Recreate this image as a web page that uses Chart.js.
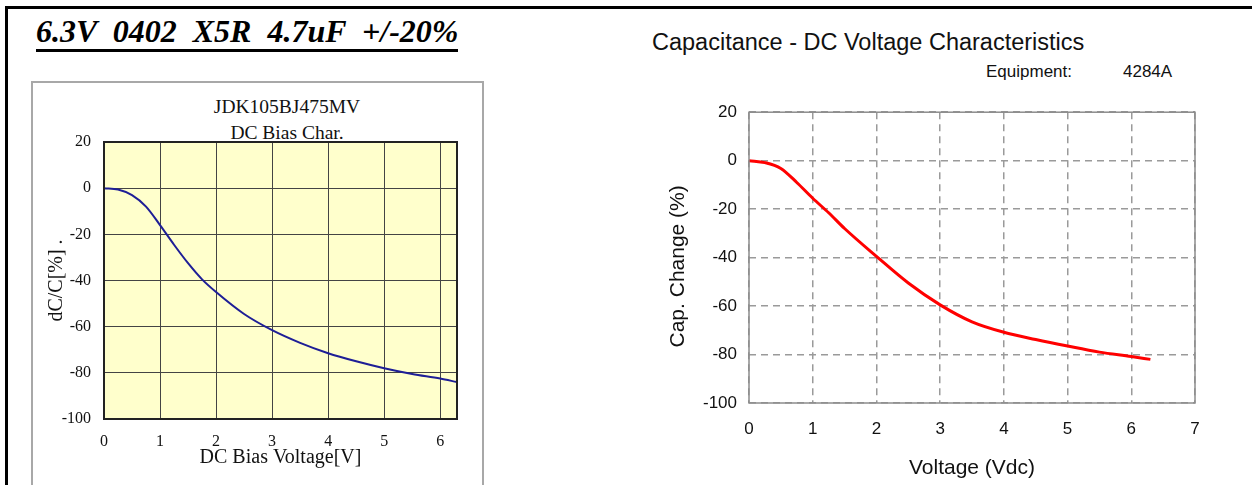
<!DOCTYPE html>
<html>
<head>
<meta charset="utf-8">
<script src="https://cdn.jsdelivr.net/npm/chart.js@4.4.1/dist/chart.umd.min.js"></script>
<style>
  body { margin: 0; background: #fff; }
  #page { position: relative; width: 1252px; height: 485px; overflow: hidden; background: #fff; }
  .abs { position: absolute; }
  #frameTop { left: 5px; top: 6px; width: 1247px; height: 3px; background: #000; }
  #frameLeft { left: 5px; top: 6px; width: 3px; height: 479px; background: #000; }
  #mainTitle {
    left: 36px; top: 15px;
    font: italic bold 32px "Liberation Serif", "Times New Roman", serif;
    line-height: 32px; white-space: pre;
    padding-bottom: 2px; border-bottom: 3px solid #000;
  }
  #leftBox { left: 31px; top: 81px; width: 449px; height: 420px; border: 2px solid #a8a8a8; }
  .subTitle {
    left: 187px; width: 200px; text-align: center;
    font: 19.5px "Liberation Serif", "Times New Roman", serif; line-height: 20px; color: #111;
  }
  #rightTitle {
    left: 652px; top: 30px;
    font: 23.5px "Liberation Sans", Arial, sans-serif; line-height: 24px; color: #111;
  }
  .equip { top: 63px; font: 17px "Liberation Sans", Arial, sans-serif; line-height: 17px; color: #111; }
  canvas { position: absolute; }
</style>
</head>
<body>
<div id="page">
  <div id="frameTop" class="abs"></div>
  <div id="frameLeft" class="abs"></div>
  <div id="mainTitle" class="abs">6.3V  0402  X5R  4.7uF  +/-20%</div>
  <div id="leftBox" class="abs"></div>
  <div class="abs subTitle" style="top:97px;">JDK105BJ475MV</div>
  <div class="abs subTitle" style="top:123px;">DC Bias Char.</div>
  <canvas id="biasChart" width="451" height="404" style="left:31px; top:81px;"></canvas>

  <div id="rightTitle" class="abs">Capacitance - DC Voltage Characteristics</div>
  <div class="abs equip" style="left:986px;">Equipment:</div>
  <div class="abs equip" style="left:1123px;">4284A</div>
  <canvas id="capChart" width="622" height="395" style="left:630px; top:90px;"></canvas>
</div>

<script>
// Courbe de gauche : JDK105BJ475MV, DC Bias Char.
const biasVolts = [0, 0.25, 0.5, 0.75, 1, 1.25, 1.5, 1.75, 2, 2.5, 3, 3.5, 4, 4.5, 5, 5.5, 6, 6.3];
const biasChange = [0, -0.6, -3, -8, -16, -24.5, -32.5, -39.5, -45, -54.5, -61.5, -67, -71.5, -75, -78, -80.5, -82.5, -84];

// Courbe de droite : Capacitance - DC Voltage Characteristics
const capVolts = [0, 0.25, 0.5, 0.75, 1, 1.25, 1.5, 2, 2.5, 3, 3.5, 4, 4.5, 5, 5.5, 6, 6.3];
const capChange = [0, -0.8, -3.2, -9, -15.5, -21.5, -28, -39.5, -50.5, -59.5, -66.5, -70.8, -73.8, -76.5, -79, -80.8, -82];

// axes
const yMin = -100, yMax = 20, yStep = 20;
const biasXMax = 6.3;
const capXMax = 7;

// fond + cadre de la zone de tracé
const plotFrame = {
  id: 'plotFrame',
  beforeDraw(chart, args, opts) {
    const { ctx, chartArea: a } = chart;
    if (opts.fill) {
      ctx.save();
      ctx.fillStyle = opts.fill;
      ctx.fillRect(a.left, a.top, a.width, a.height);
      ctx.restore();
    }
  },
  afterDraw(chart, args, opts) {
    const { ctx, chartArea: a } = chart;
    ctx.save();
    ctx.strokeStyle = opts.color;
    ctx.lineWidth = opts.width;
    ctx.strokeRect(a.left, a.top, a.width, a.height);
    ctx.restore();
  }
};

const toPoints = (xs, ys) => xs.map((x, i) => ({ x: x, y: ys[i] }));

const serif = '"Liberation Serif", "Times New Roman", serif';
const sans = '"Liberation Sans", Arial, sans-serif';

new Chart(document.getElementById('biasChart').getContext('2d'), {
  type: 'line',
  data: {
    datasets: [{
      data: toPoints(biasVolts, biasChange),
      borderColor: '#1e1e96',
      borderWidth: 2,
      pointRadius: 0,
      cubicInterpolationMode: 'monotone'
    }]
  },
  options: {
    responsive: false,
    animation: false,
    layout: { padding: { left: 0, right: 25, top: 61, bottom: 0 } },
    plugins: {
      legend: { display: false },
      tooltip: { enabled: false },
      plotFrame: { fill: '#ffffcc', color: '#222', width: 2 }
    },
    scales: {
      x: {
        type: 'linear',
        min: 0,
        max: biasXMax,
        afterFit: s => { s.height = 66; },
        grid: { color: '#444', lineWidth: 1, drawTicks: false },
        border: { display: false },
        ticks: { stepSize: 1, includeBounds: false, padding: 13, color: '#111', font: { family: serif, size: 16 } },
        title: { display: true, text: 'DC Bias Voltage[V]', color: '#111', font: { family: serif, size: 20 }, padding: { top: 0, bottom: 15 } }
      },
      y: {
        min: yMin,
        max: yMax,
        afterFit: s => { s.width = 73; },
        grid: { color: '#444', lineWidth: 1, drawTicks: false },
        border: { display: false },
        ticks: { stepSize: yStep, padding: 13, color: '#111', font: { family: serif, size: 16 } },
        title: { display: true, text: 'dC/C[%] .', color: '#111', font: { family: serif, size: 20 }, padding: { top: 14, bottom: 0 } }
      }
    }
  },
  plugins: [plotFrame]
});

new Chart(document.getElementById('capChart').getContext('2d'), {
  type: 'line',
  data: {
    datasets: [{
      data: toPoints(capVolts, capChange),
      borderColor: '#ff0000',
      borderWidth: 3,
      pointRadius: 0,
      cubicInterpolationMode: 'monotone'
    }]
  },
  options: {
    responsive: false,
    animation: false,
    layout: { padding: { left: 0, right: 57, top: 16, bottom: 0 } },
    plugins: {
      legend: { display: false },
      tooltip: { enabled: false },
      plotFrame: { color: '#8c8c8c', width: 1.5 }
    },
    scales: {
      x: {
        type: 'linear',
        min: 0,
        max: capXMax,
        afterFit: s => { s.height = 82; },
        grid: { color: '#9a9a9a', lineWidth: 1.5, drawTicks: false },
        border: { display: false, dash: [7, 5] },
        ticks: { stepSize: 1, padding: 16, color: '#111', font: { family: sans, size: 17 } },
        title: { display: true, text: 'Voltage (Vdc)', color: '#111', font: { family: sans, size: 21 }, padding: { top: 0, bottom: 4 } }
      },
      y: {
        min: yMin,
        max: yMax,
        afterFit: s => { s.width = 119; },
        grid: { color: '#9a9a9a', lineWidth: 1.5, drawTicks: false },
        border: { display: false, dash: [7, 5] },
        ticks: { stepSize: yStep, padding: 12, color: '#111', font: { family: sans, size: 17 } },
        // espaces en fin pour décaler le titre vers le bas comme sur l'original
        title: { display: true, text: 'Cap. Change (%)   ', color: '#111', font: { family: sans, size: 21 }, padding: { top: 36, bottom: 0 } }
      }
    }
  },
  plugins: [plotFrame]
});
</script>
</body>
</html>
